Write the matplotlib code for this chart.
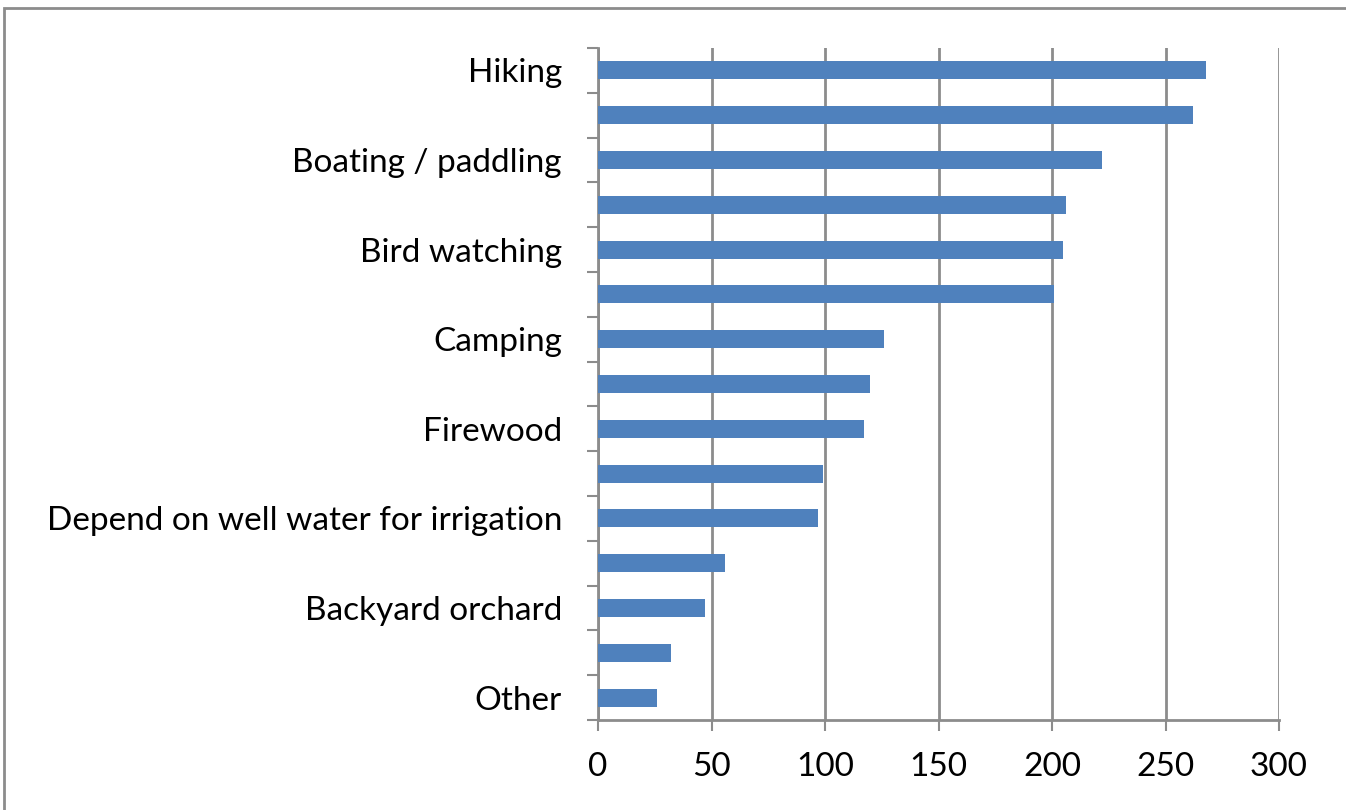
import matplotlib
matplotlib.use("Agg")
import matplotlib.pyplot as plt
import matplotlib.patches as patches
import numpy as np

# categories top to bottom (Excel skipped every other label)
categories = ["Hiking", "", "Boating / paddling", "", "Bird watching", "",
              "Camping", "", "Firewood", "", "Depend on well water for irrigation",
              "", "Backyard orchard", "", "Other"]
values = [268, 262, 222, 206, 205, 201, 126, 120, 117, 99, 97, 56, 47, 32, 26]
xticks = [0, 50, 100, 150, 200, 250, 300]

plt.rcParams['font.family'] = ['Lato', 'DejaVu Sans']

fig = plt.figure(figsize=(13.46, 8.10), dpi=100)
ax = fig.add_axes([598/1346, 1 - 720/810, (1279 - 598)/1346, (720 - 48)/810])

grey = '#8c8c8c'
y = np.arange(len(categories))
ax.barh(y, values, height=0.4, color='#4f81bd', zorder=3)

ax.set_xlim(0, 300)
ax.set_ylim(len(categories) - 0.5, -0.5)
ax.set_xticks(xticks)
ax.set_xticklabels([str(v) for v in xticks], fontsize=24)
ax.grid(axis='x', color=grey, linewidth=2, zorder=0)

# tick marks at category boundaries, labels at centres
ax.set_yticks(np.arange(len(categories) + 1) - 0.5)
ax.set_yticklabels([])
ax.set_yticks(y, minor=True)
ax.set_yticklabels(categories, minor=True, fontsize=24)
ax.tick_params(axis='y', which='major', length=8, width=1.5, color=grey, direction='out')
ax.tick_params(axis='y', which='minor', length=0, pad=26)
ax.tick_params(axis='x', length=8, width=1.5, color=grey, pad=15)

for s in ['top', 'right']:
    ax.spines[s].set_visible(False)
for s in ['left', 'bottom']:
    ax.spines[s].set_color(grey)
    ax.spines[s].set_linewidth(2)

# outer chart border
fig.patches.append(patches.Rectangle((4/1346, -0.1), 1.2, 1 - 8/810 + 0.1,
                                     transform=fig.transFigure, fill=False,
                                     edgecolor=grey, linewidth=2))

fig.savefig("out.png", dpi=100)
